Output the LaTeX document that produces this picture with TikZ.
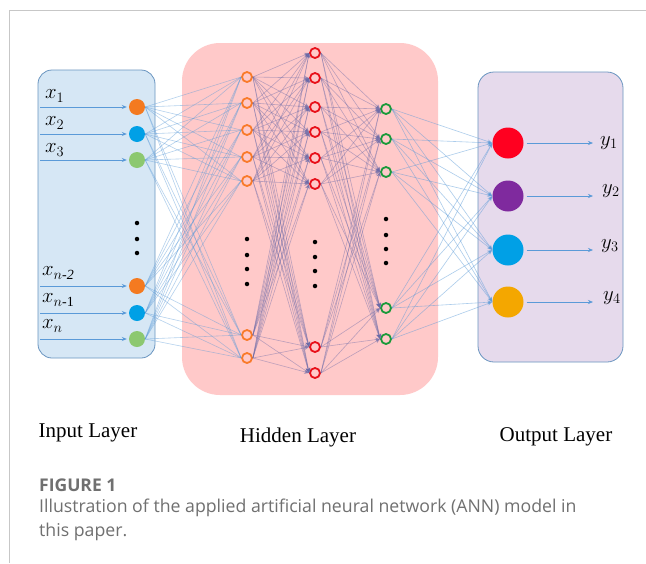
\documentclass[tikz,border=0pt]{standalone}
\usepackage{fontspec}
\setmainfont{Liberation Serif}
\newfontfamily\capfont{Open Sans}
\usetikzlibrary{arrows.meta}
\definecolor{inbg}{HTML}{D6E7F5}
\definecolor{boxedge}{HTML}{6A95C0}
\definecolor{hidbg}{HTML}{FFC9C9}
\definecolor{outbg}{HTML}{E6DAEC}
\definecolor{cOrange}{HTML}{F47A20}
\definecolor{cBlue}{HTML}{00A0E6}
\definecolor{cGreen}{HTML}{8CC870}
\definecolor{cRed}{HTML}{FF0020}
\definecolor{cPurple}{HTML}{7F2A9E}
\definecolor{cAmber}{HTML}{F4A700}
\definecolor{hOrange}{HTML}{F97A2A}
\definecolor{hRed}{HTML}{E8101A}
\definecolor{hGreen}{HTML}{1A9A3A}
\definecolor{lblue}{HTML}{5A9AD8}
\definecolor{lpurp}{HTML}{6A6AA8}
\definecolor{capgray}{HTML}{707070}
\tikzset{
  innode/.style={circle,inner sep=0pt,minimum size=16pt,fill=#1},
  hnode/.style={circle,inner sep=0pt,minimum size=10pt,draw=#1,line width=1.8pt},
  onode/.style={circle,inner sep=0pt,minimum size=31pt,fill=#1},
  blueedge/.style={draw=lblue,opacity=0.45,line width=0.6pt},
  purpedge/.style={draw=lpurp,opacity=0.45,line width=0.6pt,-{Stealth[length=5pt,width=4.5pt]}},
  outedge/.style={draw=lblue,opacity=0.5,line width=0.6pt,-{Stealth[length=5pt,width=4pt]}},
  inarrow/.style={draw=lblue,line width=0.7pt,-{Stealth[length=5pt,width=4pt]}},
  dotmark/.style={circle,fill=black,inner sep=0pt,minimum size=4.5pt},
  layerlabel/.style={font=\fontsize{21}{24}\selectfont},
  mathlabel/.style={font=\fontsize{22}{24}\selectfont,anchor=west,inner sep=0pt},
}
\begin{document}
\begin{tikzpicture}[x=1pt,y=-1pt]
\useasboundingbox (0,0) rectangle (646,563);
\fill[white] (0,0) rectangle (646,563);
% frame
\draw[draw=black!22,line width=1pt] (9,563) -- (9,10) -- (646,10);
% layer boxes
\draw[fill=inbg,draw=boxedge,line width=0.8pt,rounded corners=14pt] (38,70) rectangle (155,358);
\fill[hidbg,rounded corners=38pt] (182,43) rectangle (438,395);
\draw[fill=outbg,draw=boxedge,line width=0.8pt,rounded corners=16pt] (478,72) rectangle (623,362);
% input nodes
\node[innode=cOrange] (i1) at (137,107) {};
\node[innode=cBlue]   (i2) at (137,134) {};
\node[innode=cGreen]  (i3) at (137,160) {};
\node[innode=cOrange] (i4) at (137,286) {};
\node[innode=cBlue]   (i5) at (137,313) {};
\node[innode=cGreen]  (i6) at (137,339) {};
\foreach \y [count=\k] in {223,239,253} \node[dotmark] (di\k) at (137,\y) {};
% hidden layer 1
\foreach \y [count=\k] in {77,103,130,157,181,335,358}
  \node[hnode=hOrange] (a\k) at (247,\y) {};
\foreach \y [count=\k] in {239,255,269,284} \node[dotmark] (da\k) at (247,\y) {};
% hidden layer 2
\foreach \y [count=\k] in {53,78,107,132,158,184,347,373}
  \node[hnode=hRed] (b\k) at (315,\y) {};
\foreach \y [count=\k] in {242,257,271,286} \node[dotmark] (db\k) at (315,\y) {};
% hidden layer 3
\foreach \y [count=\k] in {109,139,172,308,339}
  \node[hnode=hGreen] (c\k) at (386,\y) {};
\foreach \y [count=\k] in {219,235,249,263} \node[dotmark] (dc\k) at (386,\y) {};
% output nodes
\node[onode=cRed]    (o1) at (508,143) {};
\node[onode=cPurple] (o2) at (508,196) {};
\node[onode=cBlue]   (o3) at (508,250) {};
\node[onode=cAmber]  (o4) at (508,302) {};
% edges
\foreach \i in {1,...,6} \foreach \j in {1,...,7}
  \draw[blueedge] (i\i.east) -- (a\j.west);
\foreach \i in {1,...,7} \foreach \j in {1,...,8}
  \draw[purpedge] (a\i.east) -- (b\j.west);
\foreach \i in {1,...,8} \foreach \j in {1,...,5}
  \draw[purpedge] (b\i.east) -- (c\j.west);
\foreach \i in {1,...,5} \foreach \j in {1,...,4}
  \draw[outedge] (c\i.east) -- (o\j.west);
% input arrows and labels
\foreach \k in {1,...,6}{
  \coordinate (s\k) at (40,0 |- i\k);
  \draw[inarrow] (s\k) -- ([xshift=-2pt]i\k.west);
}
\node[mathlabel] (lx1) at (45,96) {$x_1$};
\node[mathlabel] (lx2) at (45,123) {$x_2$};
\node[mathlabel] (lx3) at (45,150) {$x_3$};
\node[mathlabel] (lx4) at (42,273) {$x_{n\mbox{\fontsize{14}{14}\selectfont\itshape -2}}$};
\node[mathlabel] (lx5) at (42,300) {$x_{n\mbox{\fontsize{14}{14}\selectfont -1}}$};
\node[mathlabel] (lx6) at (42,326) {$x_n$};
% output arrows and labels
\foreach \k in {1,...,4}{
  \coordinate (t\k) at (593,0 |- o\k);
  \draw[inarrow,line width=0.6pt] ([xshift=3pt]o\k.east) -- (t\k);
}
\node[mathlabel] (ly1) at (600,143) {$y_1$};
\node[mathlabel] (ly2) at (602,191) {$y_2$};
\node[mathlabel] (ly3) at (601,246) {$y_3$};
\node[mathlabel] (ly4) at (603,298) {$y_4$};
% layer labels
\node[layerlabel] (L1) at (88,433) {Input Layer};
\node[layerlabel] (L2) at (298,437) {Hidden Layer};
\node[layerlabel] (L3) at (556,437) {Output Layer};
% caption
\node[anchor=west,inner sep=0pt,text=capgray,font=\capfont\fontsize{17.5}{20}\selectfont\bfseries] (fig) at (39,485) {FIGURE 1};
\node[anchor=north west,inner sep=0pt,text=capgray,align=left,font=\capfont\fontsize{17.7}{24}\selectfont] (cap) at (39,499) {Illustration of the applied artificial neural network (ANN) model in\\this paper.};
\end{tikzpicture}
\end{document}
